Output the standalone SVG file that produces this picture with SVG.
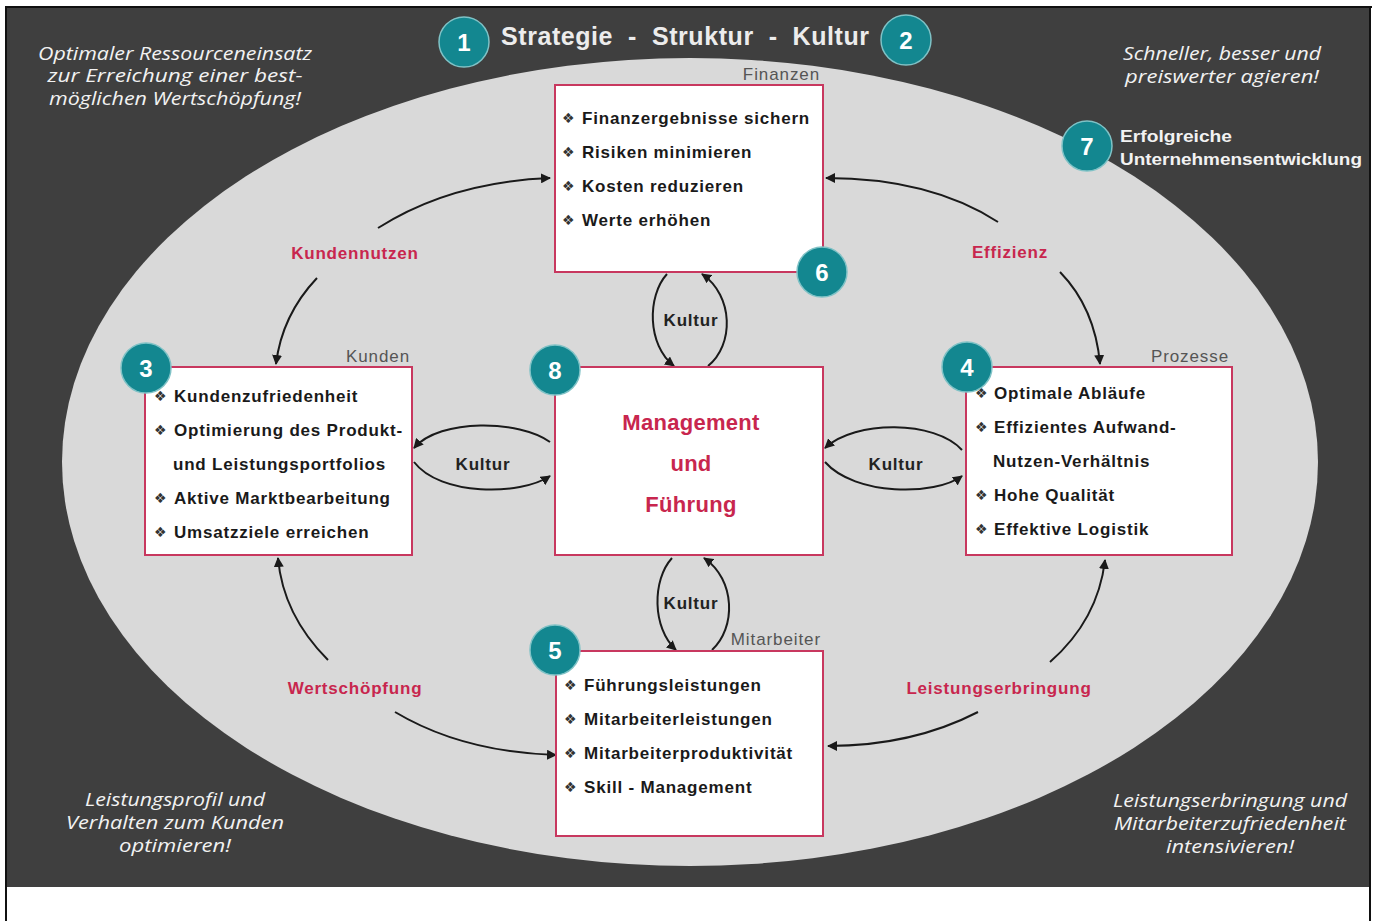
<svg xmlns="http://www.w3.org/2000/svg" width="1375" height="921" viewBox="0 0 1375 921">
<style>
.hand{font-family:"Open Sans","Liberation Sans",sans-serif;font-style:italic;font-size:18px;fill:#f2f2f2;text-anchor:middle}
.box{fill:#ffffff;stroke:#c8385f;stroke-width:2}
.item{font-family:"Liberation Sans",Arial,sans-serif;font-weight:bold;font-size:17px;letter-spacing:0.8px;fill:#1a1a1a}
.bul{font-family:"DejaVu Sans",sans-serif;font-size:14px;fill:#333}
.cat{font-family:"Liberation Sans",Arial,sans-serif;font-size:17px;letter-spacing:0.9px;fill:#555;text-anchor:end}
.lbl{font-family:"Liberation Sans",Arial,sans-serif;font-weight:bold;font-size:17px;letter-spacing:0.8px;fill:#c8264e;text-anchor:middle}
.kul{font-family:"Liberation Sans",Arial,sans-serif;font-weight:bold;font-size:17px;letter-spacing:0.8px;fill:#222;text-anchor:middle}
.badge{fill:#138790;stroke:#7fc2c6;stroke-width:1.5}
.num{font-family:"Liberation Sans",Arial,sans-serif;font-weight:bold;font-size:24px;fill:#fff;text-anchor:middle}
.con{fill:none;stroke:#1a1a1a;stroke-width:2}
.mg{font-family:"Liberation Sans",Arial,sans-serif;font-weight:bold;font-size:22px;letter-spacing:0.3px;fill:#c8264e;text-anchor:middle}
</style>
<defs>
<marker id="ah" viewBox="0 0 10 10" refX="9" refY="5" markerWidth="5" markerHeight="5" orient="auto" markerUnits="strokeWidth">
<path d="M0,0 L10,5 L0,10 z" fill="#1a1a1a"/>
</marker>
</defs>
<rect x="0" y="0" width="1375" height="921" fill="#ffffff"/>
<rect x="7" y="8" width="1363" height="879" fill="#3f3f3f"/>
<line x1="5" y1="7" x2="1372" y2="7" stroke="#111" stroke-width="2"/>
<line x1="6" y1="7" x2="6" y2="921" stroke="#111" stroke-width="2"/>
<line x1="1370" y1="7" x2="1370" y2="921" stroke="#111" stroke-width="2"/>
<ellipse cx="690" cy="462" rx="628" ry="404" fill="#d9d9d9"/>

<g id="title">
<text x="685" y="45" font-family="Liberation Sans, Arial, sans-serif" font-weight="bold" font-size="25" fill="#ececec" text-anchor="middle" xml:space="preserve" textLength="368" lengthAdjust="spacing">Strategie  -  Struktur  -  Kultur</text>
</g>

<g id="note-tl">
<text class="hand" x="175" y="60" textLength="274" lengthAdjust="spacingAndGlyphs">Optimaler Ressourceneinsatz</text>
<text class="hand" x="175" y="82" textLength="255" lengthAdjust="spacingAndGlyphs">zur Erreichung einer best-</text>
<text class="hand" x="175" y="105" textLength="252" lengthAdjust="spacingAndGlyphs">möglichen Wertschöpfung!</text>
</g>
<g id="note-tr">
<text class="hand" x="1222" y="60" textLength="198" lengthAdjust="spacingAndGlyphs">Schneller, besser und</text>
<text class="hand" x="1222" y="83" textLength="194" lengthAdjust="spacingAndGlyphs">preiswerter agieren!</text>
</g>
<g id="note-bl">
<text class="hand" x="175" y="806" textLength="180" lengthAdjust="spacingAndGlyphs">Leistungsprofil und</text>
<text class="hand" x="175" y="829" textLength="218" lengthAdjust="spacingAndGlyphs">Verhalten zum Kunden</text>
<text class="hand" x="175" y="852" textLength="112" lengthAdjust="spacingAndGlyphs">optimieren!</text>
</g>
<g id="note-br">
<text class="hand" x="1230" y="807" textLength="234" lengthAdjust="spacingAndGlyphs">Leistungserbringung und</text>
<text class="hand" x="1230" y="830" textLength="232" lengthAdjust="spacingAndGlyphs">Mitarbeiterzufriedenheit</text>
<text class="hand" x="1230" y="853" textLength="128" lengthAdjust="spacingAndGlyphs">intensivieren!</text>
</g>
<g id="note-7">
<text x="1120" y="142" font-family="Liberation Sans, Arial, sans-serif" font-weight="bold" font-size="17" fill="#f2f2f2" textLength="112" lengthAdjust="spacingAndGlyphs">Erfolgreiche</text>
<text x="1120" y="165" font-family="Liberation Sans, Arial, sans-serif" font-weight="bold" font-size="17" fill="#f2f2f2" textLength="242" lengthAdjust="spacingAndGlyphs">Unternehmensentwicklung</text>
</g>

<g id="connectors">
<path class="con" d="M378,228 Q450,182 550,178" marker-end="url(#ah)"/>
<path class="con" d="M317,278 Q282,315 276,364" marker-end="url(#ah)"/>
<path class="con" d="M998,222 Q930,178 826,178" marker-end="url(#ah)"/>
<path class="con" d="M1060,272 Q1095,308 1100,364" marker-end="url(#ah)"/>
<path class="con" d="M328,660 Q283,615 278,558" marker-end="url(#ah)"/>
<path class="con" d="M395,712 Q462,752 556,755" marker-end="url(#ah)"/>
<path class="con" d="M1050,662 Q1098,620 1105,560" marker-end="url(#ah)"/>
<path class="con" d="M978,712 Q912,746 828,746" marker-end="url(#ah)"/>
<path class="con" d="M667,274 C647,296 647,345 674,366" marker-end="url(#ah)"/>
<path class="con" d="M708,366 C734,345 734,296 702,274" marker-end="url(#ah)"/>
<path class="con" d="M672,558 C652,580 652,628 676,650" marker-end="url(#ah)"/>
<path class="con" d="M712,650 C736,628 736,580 704,558" marker-end="url(#ah)"/>
<path class="con" d="M550,442 C520,420 440,418 414,448" marker-end="url(#ah)"/>
<path class="con" d="M414,462 C440,496 520,496 550,476" marker-end="url(#ah)"/>
<path class="con" d="M962,450 C935,420 855,420 825,448" marker-end="url(#ah)"/>
<path class="con" d="M825,462 C855,496 935,496 962,476" marker-end="url(#ah)"/>
</g>

<g id="labels">
<text class="lbl" x="355" y="259">Kundennutzen</text>
<text class="lbl" x="1010" y="258">Effizienz</text>
<text class="lbl" x="355" y="694">Wertschöpfung</text>
<text class="lbl" x="999" y="694">Leistungserbringung</text>
<text class="kul" x="691" y="326">Kultur</text>
<text class="kul" x="691" y="609">Kultur</text>
<text class="kul" x="483" y="470">Kultur</text>
<text class="kul" x="896" y="470">Kultur</text>
</g>

<g id="finanzen">
<rect class="box" x="555" y="85" width="268" height="187"/>
<text class="cat" x="820" y="80">Finanzen</text>
<text class="bul" x="562" y="123">❖</text><text class="item" x="582" y="124">Finanzergebnisse sichern</text>
<text class="bul" x="562" y="157">❖</text><text class="item" x="582" y="158">Risiken minimieren</text>
<text class="bul" x="562" y="191">❖</text><text class="item" x="582" y="192">Kosten reduzieren</text>
<text class="bul" x="562" y="225">❖</text><text class="item" x="582" y="226">Werte erhöhen</text>
</g>

<g id="kunden">
<rect class="box" x="145" y="367" width="267" height="188"/>
<text class="cat" x="410" y="362">Kunden</text>
<text class="bul" x="154" y="401">❖</text><text class="item" x="174" y="402">Kundenzufriedenheit</text>
<text class="bul" x="154" y="435">❖</text><text class="item" x="174" y="436">Optimierung des Produkt-</text>
<text class="item" x="173" y="470">und Leistungsportfolios</text>
<text class="bul" x="154" y="503">❖</text><text class="item" x="174" y="504">Aktive Marktbearbeitung</text>
<text class="bul" x="154" y="537">❖</text><text class="item" x="174" y="538">Umsatzziele erreichen</text>
</g>

<g id="management">
<rect class="box" x="555" y="367" width="268" height="188"/>
<text class="mg" x="691" y="430">Management</text>
<text class="mg" x="691" y="471">und</text>
<text class="mg" x="691" y="512">Führung</text>
</g>

<g id="prozesse">
<rect class="box" x="966" y="367" width="266" height="188"/>
<text class="cat" x="1229" y="362">Prozesse</text>
<text class="bul" x="975" y="398">❖</text><text class="item" x="994" y="399">Optimale Abläufe</text>
<text class="bul" x="975" y="432">❖</text><text class="item" x="994" y="433">Effizientes Aufwand-</text>
<text class="item" x="993" y="467">Nutzen-Verhältnis</text>
<text class="bul" x="975" y="500">❖</text><text class="item" x="994" y="501">Hohe Qualität</text>
<text class="bul" x="975" y="534">❖</text><text class="item" x="994" y="535">Effektive Logistik</text>
</g>

<g id="mitarbeiter">
<rect class="box" x="556" y="651" width="267" height="185"/>
<text class="cat" x="821" y="645">Mitarbeiter</text>
<text class="bul" x="564" y="690">❖</text><text class="item" x="584" y="691">Führungsleistungen</text>
<text class="bul" x="564" y="724">❖</text><text class="item" x="584" y="725">Mitarbeiterleistungen</text>
<text class="bul" x="564" y="758">❖</text><text class="item" x="584" y="759">Mitarbeiterproduktivität</text>
<text class="bul" x="564" y="792">❖</text><text class="item" x="584" y="793">Skill - Management</text>
</g>

<g id="badge1"><circle class="badge" cx="464" cy="42" r="25"/><text class="num" x="464" y="51">1</text></g>
<g id="badge2"><circle class="badge" cx="906" cy="40" r="25"/><text class="num" x="906" y="49">2</text></g>
<g id="badge3"><circle class="badge" cx="146" cy="368" r="25"/><text class="num" x="146" y="377">3</text></g>
<g id="badge4"><circle class="badge" cx="967" cy="367" r="25"/><text class="num" x="967" y="376">4</text></g>
<g id="badge5"><circle class="badge" cx="555" cy="650" r="25"/><text class="num" x="555" y="659">5</text></g>
<g id="badge6"><circle class="badge" cx="822" cy="272" r="25"/><text class="num" x="822" y="281">6</text></g>
<g id="badge7"><circle class="badge" cx="1087" cy="146" r="25"/><text class="num" x="1087" y="155">7</text></g>
<g id="badge8"><circle class="badge" cx="555" cy="370" r="25"/><text class="num" x="555" y="379">8</text></g>
</svg>
